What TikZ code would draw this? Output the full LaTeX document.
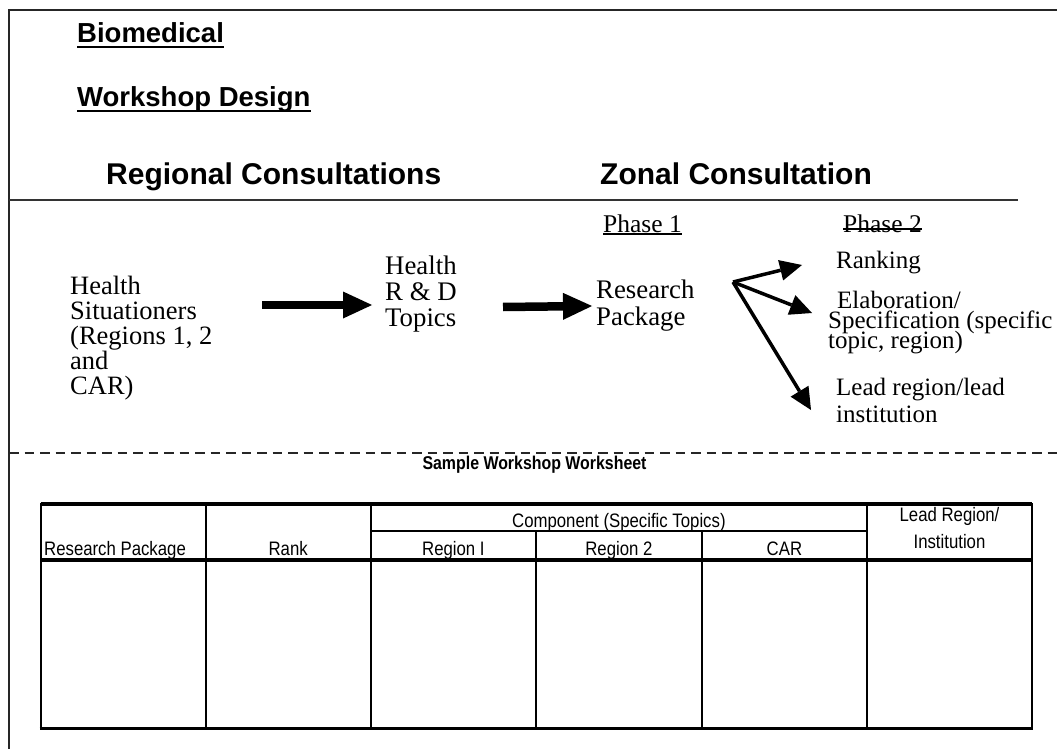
\documentclass[tikz,border=0pt]{standalone}
\usepackage{fontspec}
\setmainfont{Liberation Serif}
\newfontfamily\hv{Liberation Sans}
\newfontfamily\hvn[FakeStretch=0.86]{Liberation Sans}
\usetikzlibrary{arrows.meta}
\newcommand\stk[2]{\vtop{\baselineskip=#1\lineskiplimit=-\maxdimen\lineskip=0pt\relax\halign{##\hfil\cr#2\crcr}}}
\newcommand\stkc[2]{\vtop{\baselineskip=#1\lineskiplimit=-\maxdimen\lineskip=0pt\relax\halign{\hfil##\hfil\cr#2\crcr}}}
\tikzset{
  title/.style={font=\hv\bfseries\fontsize{27.5}{30}\selectfont, inner sep=0pt, anchor=base west},
  head/.style={font=\hv\bfseries\fontsize{30}{34}\selectfont, inner sep=0pt, anchor=base west},
  serif/.style={font=\fontsize{25}{27}\selectfont, inner sep=0pt, anchor=base west},
  serifl/.style={font=\fontsize{26.8}{27}\selectfont, inner sep=0pt, anchor=base west},
  tab/.style={font=\hvn\fontsize{19.5}{21}\selectfont, inner sep=0pt, anchor=base},
  frame/.style={line width=2pt, black!85},
  bigarrow/.style={line width=8.5pt, -{Triangle[length=29pt, width=27pt, line width=0pt]}},
  midarrow/.style={line width=3.5pt, -{Triangle[length=22pt, width=21pt, line width=0pt]}},
  uline/.style={line width=2pt},
  thin/.style={line width=1.5pt, black!80},
  tline/.style={line width=2pt},
  tthick/.style={line width=3.2pt}
}
\begin{document}
\begin{tikzpicture}[x=1pt,y=-1pt]
\useasboundingbox (0,0) rectangle (1057,749);
% frame
\coordinate (ftl) at (9,10);
\coordinate (ftr) at (1057,10);
\coordinate (fbl) at (9,749);
\draw[frame] (ftr) -- (ftl) -- (fbl);
% titles
\node[title] (bio) at (77,43) {Biomedical};
\draw[uline] ([yshift=-4.5pt]bio.base west) -- ([yshift=-4.5pt]bio.base east);
\node[title] (wd) at (77,107) {Workshop Design};
\draw[uline] ([yshift=-4.5pt]wd.base west) -- ([yshift=-4.5pt]wd.base east);
\node[head] (rc) at (106,184) {Regional Consultations};
\node[head] (zc) at (600,184) {Zonal Consultation};
\coordinate (hl1) at (9,200);
\coordinate (hl2) at (1018,200);
\draw[thin] (hl1) -- (hl2);
% phases
\node[serif, font=\fontsize{25.5}{27}\selectfont] (ph1) at (603,232) {Phase 1};
\draw[line width=1.3pt] ([yshift=-2pt]ph1.base west) -- ([yshift=-2pt]ph1.base east);
\node[serif, font=\fontsize{25.5}{27}\selectfont] (ph2) at (843,232) {Phase 2};
\draw[line width=1.3pt] ([yshift=3pt]ph2.base west) -- ([yshift=3pt]ph2.base east);
% flow texts
\node[serifl, font=\fontsize{26.5}{27}\selectfont] (hs) at (70,294) {\stk{25pt}{Health\cr Situationers\cr (Regions 1, 2\cr and\cr CAR)}};
\node[serifl] (rd) at (385,274) {\stk{26pt}{Health\cr R \& D\cr Topics}};
\node[serifl] (rp) at (596,298) {\stk{27pt}{Research\cr Package}};
\node[serif] (rk) at (836,268) {Ranking};
\node[serif] (el) at (828,308) {\stk{20pt}{\hspace{9pt}Elaboration/\cr Specification (specific\cr topic, region)}};
\node[serif] (lr) at (836,395) {\stk{27pt}{Lead region/lead\cr institution}};
% arrows
\coordinate (a1s) at (262,305);
\coordinate (a1e) at (372,305);
\coordinate (a2s) at (503,307);
\coordinate (a2e) at (592,306);
\draw[bigarrow] (a1s) -- (a1e);
\draw[bigarrow] (a2s) -- (a2e);
\coordinate (br) at (733,282);
\coordinate (t1) at (802,265);
\coordinate (t2) at (812,313);
\coordinate (t3) at (811,410);
\draw[midarrow] (br) -- (t1);
\draw[midarrow] (br) -- (t2);
\draw[midarrow] (br) -- (t3);
% dashed separator
\coordinate (d1) at (9,452.5);
\coordinate (d2) at (1057,452.5);
\draw[line width=2pt, black!85, dash pattern=on 9.5pt off 6pt] (d1) -- (d2);
\node[tab, font=\hvn\bfseries\fontsize{18.5}{21}\selectfont] (sw) at (534.5,469) {Sample Workshop Worksheet};
% table
\coordinate (T0) at (40.7,504);
\coordinate (T1) at (1032,728);
\draw[tline] (T0) rectangle (T1);
\draw[tthick] (40.7,504) -- (1032,504);
\draw[tthick] (39.7,728.5) -- (1033,728.5);
\draw[tthick] (40.7,560) -- (1032,560);
\draw[tline] (370.7,531) -- (867,531);
\draw[tline] (205.7,504) -- (205.7,728);
\draw[tline] (370.7,504) -- (370.7,728);
\draw[tline] (536,531) -- (536,728);
\draw[tline] (701.7,531) -- (701.7,728);
\draw[tline] (867,504) -- (867,728);
\node[tab, anchor=base west] (c1) at (44,555) {Research Package};
\node[tab] (c2) at (288.2,555) {Rank};
\node[tab] (cc) at (618.9,527) {Component (Specific Topics)};
\node[tab] (c3) at (453.4,555) {Region I};
\node[tab] (c4) at (618.9,555) {Region 2};
\node[tab] (c5) at (784.4,555) {CAR};
\node[tab] (c6) at (949.5,521) {\stkc{27pt}{Lead Region/\cr Institution}};
\end{tikzpicture}
\end{document}
